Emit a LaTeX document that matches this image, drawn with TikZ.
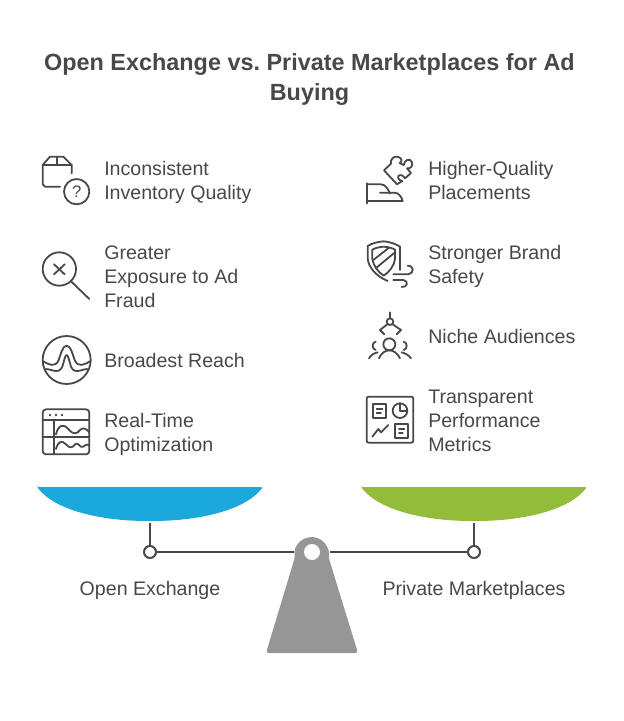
\documentclass[tikz,border=0pt]{standalone}
\usepackage{fontspec}
\setmainfont{Liberation Sans}
\definecolor{inkgray}{HTML}{484848}
\definecolor{standgray}{HTML}{969696}
\definecolor{panblue}{HTML}{1BA9DC}
\definecolor{pangreen}{HTML}{93BC3A}
\tikzset{
  itemtext/.style={anchor=west, align=left, text=inkgray, inner sep=0pt, font=\fontsize{14.7}{18}\selectfont, execute at begin node=\strut, execute at end node=\strut},
  pantext/.style={anchor=center, text=inkgray, inner sep=0pt, font=\fontsize{14.7}{18}\selectfont, execute at begin node=\strut, execute at end node=\strut},
  icon/.style={draw=inkgray, line width=1.35pt, line cap=round, line join=round},
  arm/.style={draw=inkgray, line width=1.5pt},
  pin/.style={circle, draw=inkgray, line width=1.5pt, fill=white, inner sep=0pt, minimum size=9pt}
}
\begin{document}
\begin{tikzpicture}[x=0.75pt, y=-0.75pt]
  \useasboundingbox (0, 0) rectangle (624, 721);

  \node[anchor=center, align=center, text=inkgray, inner sep=0pt, font=\fontsize{17.55}{22.5}\bfseries\frenchspacing\selectfont, execute at begin node=\strut, execute at end node=\strut] (title) at (309.5, 82) {Open Exchange vs. Private Marketplaces for Ad\\Buying};

  % left column
  \node[itemtext] (quality) at (104, 183.5) {Inconsistent\\Inventory Quality};
  \node[itemtext] (fraud) at (104, 280.5) {Greater\\Exposure to Ad\\Fraud};
  \node[itemtext] (reach) at (104, 363) {Broadest Reach};
  \node[itemtext] (realtime) at (104, 435.5) {Real-Time\\Optimization};

  % right column
  \node[itemtext] (placements) at (428, 183.5) {Higher-Quality\\Placements};
  \node[itemtext] (safety) at (428, 267.5) {Stronger Brand\\Safety};
  \node[itemtext] (niche) at (428, 339) {Niche Audiences};
  \node[itemtext] (metrics) at (428, 424.5) {Transparent\\Performance\\Metrics};

  % box with question mark
  \begin{scope}[shift={(30, 145)}, scale=1/3]
    \draw[icon] (90, 125) -- (45, 125) to[out=180, in=90] (38, 118) -- (38, 60) -- (60, 35) -- (100, 35) -- (125, 60) -- (125, 85);
    \draw[icon] (38, 60) -- (125, 60);
    \draw[icon] (80, 35) -- (80, 60);
    \draw[icon] (140, 140) circle (38);
    \node[text=inkgray, inner sep=0pt, font=\fontsize{12.5}{14}\selectfont] (qmark) at (140, 140) {?};
  \end{scope}

  % magnifier
  \begin{scope}[shift={(30, 145)}, scale=1/3]
    \draw[icon] (88, 372) circle (50);
    \draw[icon] (72, 358) -- (104, 388);
    \draw[icon] (72, 388) -- (104, 358);
    \draw[icon] (122, 408) -- (178, 462);
  \end{scope}

  % dome with peak
  \begin{scope}[shift={(30, 325)}, scale=1/3]
    \draw[icon] (110, 105) circle (72);
    \draw[icon] (38, 108) .. controls (55, 118) and (76, 130) .. (86, 105) .. controls (92, 88) and (98, 62) .. (110, 62) .. controls (122, 62) and (128, 88) .. (134, 105) .. controls (144, 130) and (165, 118) .. (182, 108);
    \draw[icon] (44, 133) .. controls (60, 128) and (85, 152) .. (97, 125) .. controls (102, 110) and (105, 90) .. (110, 90) .. controls (115, 90) and (118, 110) .. (123, 125) .. controls (135, 152) and (160, 128) .. (176, 133);
  \end{scope}

  % dashboard window
  \begin{scope}[shift={(30, 325)}, scale=1/3]
    \draw[icon, rounded corners=2.5pt] (38, 253) rectangle (178, 388);
    \draw[icon] (38, 285) -- (178, 285);
    \draw[icon] (38, 335) -- (178, 335);
    \draw[icon] (72, 285) -- (72, 388);
    \fill[inkgray] (60, 270) circle (4) (78, 270) circle (4) (96, 270) circle (4);
    \draw[icon] (78, 328) .. controls (85, 300) and (100, 295) .. (115, 312) .. controls (130, 330) and (140, 328) .. (150, 315) .. controls (160, 305) and (170, 312) .. (178, 322);
    \draw[icon] (78, 372) .. controls (85, 348) and (95, 345) .. (108, 358) .. controls (120, 372) and (128, 368) .. (135, 358) .. controls (145, 348) and (150, 372) .. (160, 365) .. controls (168, 358) and (172, 358) .. (178, 360);
  \end{scope}

  % hand with puzzle piece
  \begin{scope}[shift={(355, 145)}, scale=1/3]
    \draw[icon] (35, 115) -- (35, 175);
    \draw[icon] (35, 118) -- (78, 118) .. controls (90, 118) and (100, 132) .. (105, 146);
    \draw[icon] (75, 143) -- (118, 143) .. controls (130, 143) and (140, 155) .. (143, 168) -- (35, 168);
    \draw[icon] (87, 76) -- (108, 56) .. controls (104, 44) and (118, 30) .. (130, 36) .. controls (142, 40) and (142, 50) .. (134, 54) -- (146, 60) .. controls (148, 46) and (165, 36) .. (171, 52) .. controls (174, 64) and (166, 72) .. (156, 70) -- (168, 84) -- (150, 100) .. controls (142, 84) and (124, 90) .. (130, 100) .. controls (132, 106) and (138, 106) .. (142, 108) -- (126, 118) -- (87, 76);
  \end{scope}

  % shield with wind
  \begin{scope}[shift={(355, 145)}, scale=1/3]
    \draw[icon] (135, 375) -- (135, 305) .. controls (120, 295) and (100, 290) .. (86, 289) .. controls (70, 290) and (50, 295) .. (38, 303) -- (38, 340) .. controls (40, 365) and (60, 392) .. (98, 408);
    \draw[icon] (86, 305) .. controls (75, 306) and (62, 308) .. (52, 314) -- (52, 342) .. controls (55, 362) and (70, 382) .. (86, 392) .. controls (102, 382) and (118, 362) .. (120, 342) -- (120, 314) .. controls (110, 308) and (97, 306) .. (86, 305);
    \draw[icon] (55, 345) -- (102, 308);
    \draw[icon] (62, 370) -- (120, 322);
    \draw[icon] (115, 388) -- (160, 388) .. controls (178, 385) and (178, 362) .. (158, 362);
    \draw[icon] (115, 405) -- (145, 405) .. controls (162, 408) and (158, 428) .. (140, 426);
  \end{scope}

  % people with claw
  \begin{scope}[shift={(355, 305)}, scale=1/3]
    \draw[icon] (105, 22) -- (105, 40);
    \draw[icon] (105, 50) circle (10);
    \draw[icon] (97, 58) -- (75, 75) -- (88, 88);
    \draw[icon] (113, 58) -- (138, 75) -- (125, 88);
    \draw[icon] (103, 118) circle (18);
    \draw[icon] (72, 160) .. controls (78, 145) and (90, 136) .. (103, 136) .. controls (116, 136) and (128, 145) .. (135, 160);
    \draw[icon] (62, 110) .. controls (50, 112) and (50, 133) .. (62, 135);
    \draw[icon] (146, 110) .. controls (158, 112) and (158, 133) .. (146, 135);
    \draw[icon] (42, 160) .. controls (48, 150) and (56, 145) .. (68, 142);
    \draw[icon] (140, 142) .. controls (152, 145) and (160, 150) .. (168, 160);
  \end{scope}

  % report board
  \begin{scope}[shift={(355, 305)}, scale=1/3]
    \draw[icon, rounded corners=1.5pt] (35, 275) rectangle (175, 413);
    \draw[icon] (55, 297) rectangle (92, 338);
    \draw[icon] (65, 312) -- (82, 312);
    \draw[icon] (65, 325) -- (78, 325);
    \draw[icon] (135, 317) circle (22);
    \draw[icon] (135, 295) -- (135, 317) -- (157, 317);
    \draw[icon] (52, 395) -- (70, 372) -- (78, 382) -- (100, 360);
    \draw[icon] (120, 358) rectangle (158, 398);
    \draw[icon] (132, 372) -- (148, 372);
    \draw[icon] (132, 385) -- (143, 385);
  \end{scope}

  % scale
  \fill[panblue, rounded corners=1.5pt] (37, 487) -- (263, 487) .. controls (245, 510) and (200, 521) .. (150, 521) .. controls (100, 521) and (55, 510) .. (37, 487) -- cycle;
  \fill[pangreen, rounded corners=1.5pt] (361, 487) -- (587, 487) .. controls (569, 510) and (524, 521) .. (474, 521) .. controls (424, 521) and (379, 510) .. (361, 487) -- cycle;

  \fill[standgray, rounded corners=2pt] (266, 653) -- (295, 557) arc[start angle=170, end angle=370, radius=17] -- (358, 653) -- cycle;

  \coordinate (standleft) at (294, 552);
  \coordinate (standright) at (330, 552);
  \coordinate (panleft) at (150, 523);
  \coordinate (panright) at (474, 523);
  \node[pin] (pinleft) at (150, 552) {};
  \node[pin] (pinright) at (474, 552) {};
  \node[circle, fill=white, inner sep=0pt, minimum size=12pt] (hole) at (312, 552) {};

  \draw[arm] (panleft) -- (pinleft);
  \draw[arm] (panright) -- (pinright);
  \draw[arm] (pinleft) -- (standleft);
  \draw[arm] (pinright) -- (standright);

  \node[pantext] (openlabel) at (150, 591) {Open Exchange};
  \node[pantext] (privatelabel) at (474, 591) {Private Marketplaces};
\end{tikzpicture}
\end{document}
